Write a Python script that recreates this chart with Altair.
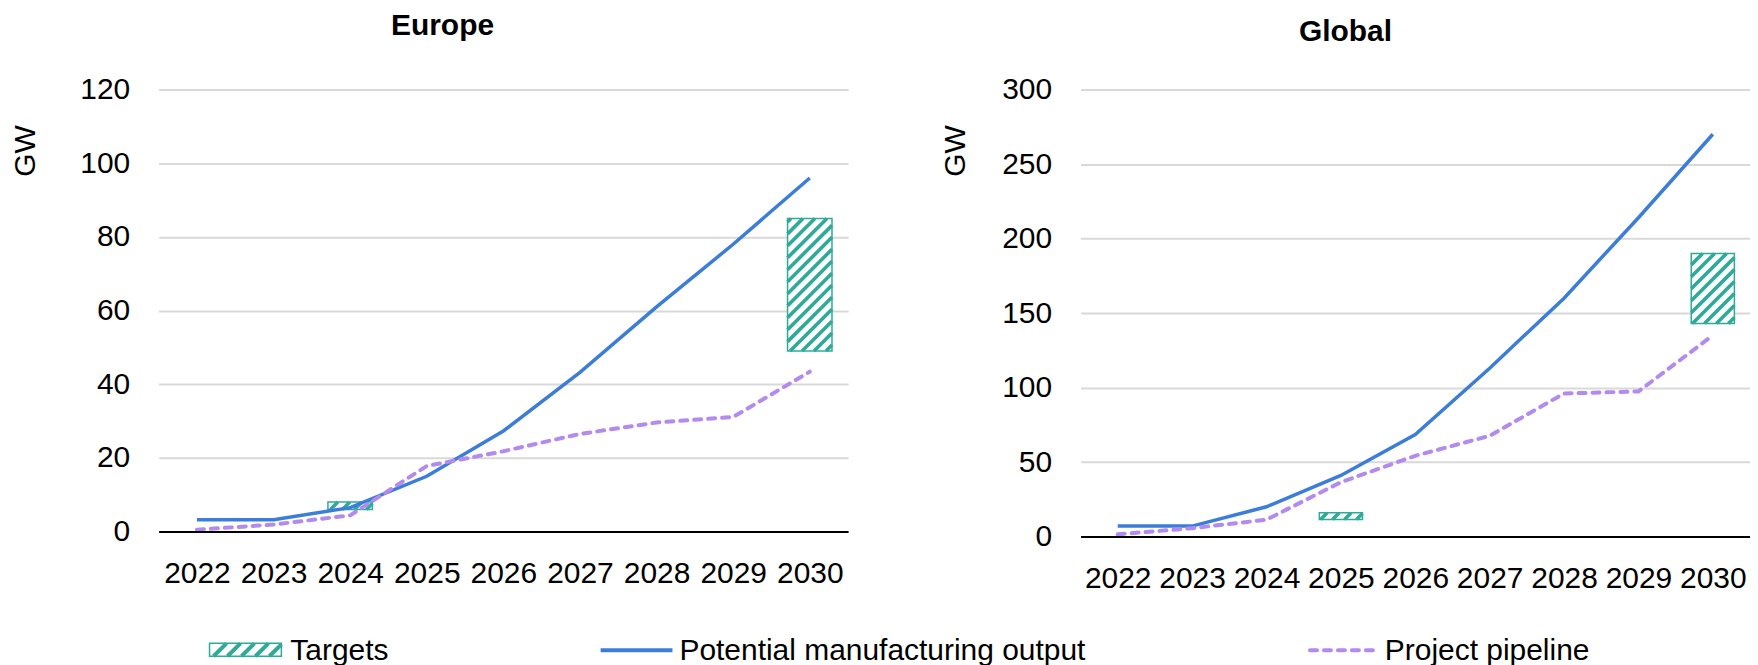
import altair as alt
import pandas as pd

# ---------------- data ----------------
years = [2022, 2023, 2024, 2025, 2026, 2027, 2028, 2029, 2030]

europe_output = [3.2, 3.2, 6.5, 15.0, 27.3, 43.2, 61.0, 78.0, 96.0]
europe_pipeline = [0.5, 1.9, 4.4, 17.8, 21.8, 26.5, 29.6, 31.1, 43.4]
europe_target_years = [2024, 2030]
europe_target_low = [6.0, 49.0]
europe_target_high = [8.0, 85.0]

global_output = [7.0, 7.0, 20.0, 41.0, 68.5, 113.0, 160.0, 214.0, 270.0]
global_pipeline = [1.5, 5.6, 11.3, 36.5, 54.2, 67.6, 96.0, 97.4, 135.0]
global_target_years = [2025, 2030]
global_target_low = [11.5, 143.0]
global_target_high = [16.0, 190.0]

series_names = ["Targets", "Potential manufacturing output", "Project pipeline"]

# ---------------- styling ----------------
FONT = "Liberation Sans"
TEAL = "#30AA98"
BLUE = "#3C7DD9"
PURPLE = "#B38BEE"
GRID = "#D9D9D9"
FS = 30
HALF_W = 0.29  # half width of target boxes, in years


def hatch_segments(t_years, lows, highs, ppx, ppy, spacing=12.0):
    """45-degree hatch stripes clipped to each target box (pixel spacing)."""
    rows = []
    for yr, lo, hi in zip(t_years, lows, highs):
        w = 2 * HALF_W * ppx
        h = (hi - lo) * ppy
        c = -w + spacing / 2.0
        while c < h:
            a = max(0.0, -c)
            b = min(w, h - c)
            if b > a + 0.5:
                rows.append({
                    "x": yr - HALF_W + a / ppx,
                    "x2": yr - HALF_W + b / ppx,
                    "y": lo + (a + c) / ppy,
                    "y2": lo + (b + c) / ppy,
                })
            c += spacing
    return pd.DataFrame(rows)


def panel(title, output, pipeline, t_years, t_low, t_high, ymax, ystep,
          width, height, gw_x, gw_y, title_offset, title_dx):
    ppx = width / 9.0
    ppy = height / float(ymax)

    x_scale = alt.Scale(domain=[2021.5, 2030.5], nice=False, zero=False)
    y_scale = alt.Scale(domain=[0, ymax], nice=False, zero=True)

    x_axis = alt.Axis(values=years, format="d", grid=False, ticks=False,
                      tickSize=0, domainColor="#000000", domainWidth=2,
                      labelFontSize=FS, labelPadding=27, labelColor="#000000",
                      labelFlush=False, title=None, zindex=1)
    y_axis = alt.Axis(values=list(range(0, ymax + 1, ystep)), grid=True,
                      gridColor=GRID, gridWidth=2, domain=False, ticks=False,
                      tickSize=0, labelFontSize=FS, labelPadding=29,
                      labelColor="#000000", title="GW", titleFontSize=FS,
                      titleFontWeight="normal", titleColor="#000000",
                      titleAngle=270, titleX=gw_x, titleY=gw_y,
                      titleAlign="center", titleBaseline="alphabetic")

    X = lambda f: alt.X(f, type="quantitative", scale=x_scale, axis=x_axis)
    Y = lambda f: alt.Y(f, type="quantitative", scale=y_scale, axis=y_axis)

    tdf = pd.DataFrame({"year": t_years, "lo": t_low, "hi": t_high})
    boxes = alt.Chart(tdf).transform_calculate(
        x0=f"datum.year - {HALF_W}", x1=f"datum.year + {HALF_W}"
    ).mark_rect(fill="white", stroke=TEAL, strokeWidth=1.5).encode(
        x=X("x0"), x2="x1", y=Y("lo"), y2="hi"
    )

    hdf = hatch_segments(t_years, t_low, t_high, ppx, ppy)
    stripes = alt.Chart(hdf).mark_rule(color=TEAL, strokeWidth=3.6,
                                       strokeCap="butt").encode(
        x=X("x"), x2="x2", y=Y("y"), y2="y2"
    )

    odf = pd.DataFrame({"year": years, "value": output})
    pdf = pd.DataFrame({"year": years, "value": pipeline})
    out_line = alt.Chart(odf).mark_line(color=BLUE, strokeWidth=3.5).encode(
        x=X("year"), y=Y("value")
    )
    pipe_line = alt.Chart(pdf).mark_line(color=PURPLE, strokeWidth=4,
                                         strokeDash=[7, 7],
                                         strokeCap="round").encode(
        x=X("year"), y=Y("value")
    )

    return alt.layer(boxes, stripes, out_line, pipe_line).properties(
        width=width, height=height,
        title=alt.TitleParams(text=title, fontSize=FS, fontWeight="bold",
                              font=FONT, color="#000000", anchor="middle",
                              frame="bounds", baseline="alphabetic",
                              offset=title_offset, dx=title_dx),
    )


europe = panel("Europe", europe_output, europe_pipeline, europe_target_years,
               europe_target_low, europe_target_high, 120, 20,
               691, 443, -124, 61, 10, 13)
glob = panel("Global", global_output, global_pipeline, global_target_years,
             global_target_low, global_target_high, 300, 50,
             671, 448, -116, 61, 4, 0)

# ---------------- legend (own small chart below the panels) ----------------
one = pd.DataFrame({"k": [0]})
LEG_W, LEG_H = 1450, 28
leg_layers = []
# invisible frame to pin the legend's bounds
leg_layers.append(alt.Chart(one).mark_rect(opacity=0).encode(
    x=alt.value(0), x2=alt.value(LEG_W), y=alt.value(0), y2=alt.value(LEG_H)))
# Targets symbol: hatched box
sx0, sx1, sy0, sy1 = 51, 123, 7, 20
leg_layers.append(alt.Chart(one).mark_rect(fill="white", stroke=TEAL,
                                           strokeWidth=1.5).encode(
    x=alt.value(sx0), x2=alt.value(sx1), y=alt.value(sy0), y2=alt.value(sy1)))
hh = sy1 - sy0
start = sx0 + 4
while start < sx1:
    xa = start
    xb = min(start + hh, sx1)
    leg_layers.append(alt.Chart(one).mark_rule(color=TEAL, strokeWidth=4,
                                               strokeCap="butt").encode(
        x=alt.value(xa), x2=alt.value(xb), y=alt.value(sy1),
        y2=alt.value(sy1 - (xb - xa))))
    start += 14
# Potential manufacturing output symbol
leg_layers.append(alt.Chart(one).mark_rule(color=BLUE, strokeWidth=4).encode(
    x=alt.value(443), x2=alt.value(515), y=alt.value(14), y2=alt.value(14)))
# Project pipeline symbol
leg_layers.append(alt.Chart(one).mark_rule(color=PURPLE, strokeWidth=4,
                                           strokeDash=[7, 7],
                                           strokeCap="round").encode(
    x=alt.value(1154), x2=alt.value(1224), y=alt.value(14), y2=alt.value(14)))
# labels
for name, lx in zip(series_names, [132, 522, 1229]):
    leg_layers.append(alt.Chart(pd.DataFrame({"label": [name]})).mark_text(
        align="left", baseline="alphabetic", fontSize=FS, font=FONT,
        color="#000000").encode(
        x=alt.value(lx), y=alt.value(24), text="label:N"))

legend = alt.layer(*leg_layers).properties(width=LEG_W, height=LEG_H)

chart = alt.vconcat(
    alt.hconcat(europe, glob, spacing=93),
    legend,
    spacing=43,
).properties(
    padding={"left": 3, "top": 2, "right": 0, "bottom": 0}
).configure_view(stroke=None).configure_axis(
    labelFont=FONT, titleFont=FONT
).configure_title(font=FONT).configure_text(font=FONT)

chart.save("out.html", embed_options={"renderer": "svg", "actions": False})
